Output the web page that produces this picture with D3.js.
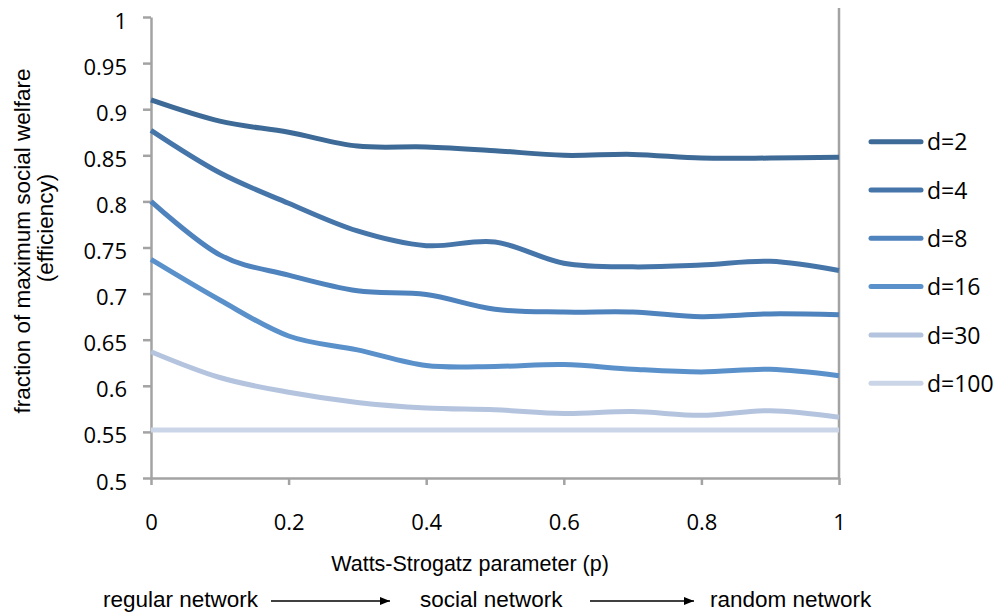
<!DOCTYPE html>
<html><head><meta charset="utf-8">
<script src="https://cdn.jsdelivr.net/npm/d3@7"></script>
<style>body{margin:0;background:#fff} svg{display:block}</style>
</head><body>
<svg id="chart" width="999" height="613"></svg>
<script>
// ---- data ----
const pValues = [0, 0.1, 0.2, 0.3, 0.4, 0.5, 0.6, 0.7, 0.8, 0.9, 1];
const seriesNames = ["d=2", "d=4", "d=8", "d=16", "d=30", "d=100"];
const d2   = [0.910, 0.887, 0.875, 0.860, 0.859, 0.855, 0.850, 0.851, 0.847, 0.847, 0.848];
const d4   = [0.877, 0.831, 0.798, 0.768, 0.752, 0.756, 0.733, 0.729, 0.731, 0.735, 0.725];
const d8   = [0.800, 0.742, 0.720, 0.703, 0.699, 0.683, 0.680, 0.680, 0.675, 0.678, 0.677];
const d16  = [0.737, 0.693, 0.654, 0.639, 0.622, 0.621, 0.623, 0.618, 0.615, 0.618, 0.611];
const d30  = [0.637, 0.609, 0.593, 0.582, 0.576, 0.574, 0.570, 0.572, 0.568, 0.573, 0.566];
const d100 = [0.552, 0.552, 0.552, 0.552, 0.552, 0.552, 0.552, 0.552, 0.552, 0.552, 0.552];
const seriesValues = [d2, d4, d8, d16, d30, d100];
const seriesColors = ["#3e6a97", "#4675a9", "#4f83bd", "#5a91cb", "#b4c4de", "#cbd5e8"];
const yTicks = [0.5, 0.55, 0.6, 0.65, 0.7, 0.75, 0.8, 0.85, 0.9, 0.95, 1];
const yTickLabels = ["0.5", "0.55", "0.6", "0.65", "0.7", "0.75", "0.8", "0.85", "0.9", "0.95", "1"];
const xTicks = [0, 0.2, 0.4, 0.6, 0.8, 1];
const xTickLabels = ["0", "0.2", "0.4", "0.6", "0.8", "1"];
const xTitle = "Watts-Strogatz parameter (p)";
const yTitle = ["fraction of maximum social welfare", "(efficiency)"];
const bottomLabels = ["regular network", "social network", "random network"];

// ---- layout ----
const svg = d3.select("#chart");
const x = d3.scaleLinear().domain([0, 1]).range([151, 839]);
const y = d3.scaleLinear().domain([0.5, 1]).range([478, 17]);
const axisColor = "#a3a3a3";
const tickFont = "'Open Sans', sans-serif";
const titleFont = "'Liberation Sans', Arial, sans-serif";

svg.append("defs").append("marker")
  .attr("id", "arrow").attr("viewBox", "0 0 10 10")
  .attr("refX", 10).attr("refY", 5)
  .attr("markerWidth", 10).attr("markerHeight", 10)
  .attr("markerUnits", "userSpaceOnUse")
  .attr("orient", "auto")
  .append("path").attr("d", "M0,1 L10,5 L0,9 Z").attr("fill", "#000");

// right border line
svg.append("line")
  .attr("x1", x(1)).attr("x2", x(1))
  .attr("y1", y(1) - 9).attr("y2", y(0.5))
  .attr("stroke", axisColor).attr("stroke-width", 2.5);

// y axis
const yAxis = svg.append("g")
  .attr("transform", `translate(${x(0)},0)`)
  .call(d3.axisLeft(y).tickValues(yTicks)
    .tickFormat((d, i) => yTickLabels[i]).tickSize(8).tickSizeOuter(0).tickPadding(16));
// x axis
const xAxis = svg.append("g")
  .attr("transform", `translate(0,${y(0.5)})`)
  .call(d3.axisBottom(x).tickValues(xTicks)
    .tickFormat((d, i) => xTickLabels[i]).tickSize(7).tickSizeOuter(0).tickPadding(29));

[yAxis, xAxis].forEach(g => {
  g.select(".domain").attr("stroke", axisColor).attr("stroke-width", 2.5);
  g.selectAll(".tick line").attr("stroke", axisColor).attr("stroke-width", 2.5);
  g.selectAll(".tick text").attr("fill", "#000")
    .style("font-family", tickFont).style("font-size", "22px");
});
yAxis.selectAll(".tick text").attr("dy", "0.5em");

// lines
const line = d3.line()
  .x((d, i) => x(pValues[i]))
  .y(d => y(d))
  .curve(d3.curveCardinal.tension(0));

svg.append("g").selectAll("path")
  .data(seriesValues)
  .join("path")
  .attr("d", d => line(d))
  .attr("fill", "none")
  .attr("stroke", (d, i) => seriesColors[i])
  .attr("stroke-width", 5)
  .attr("stroke-linecap", "butt");

// legend
const legend = svg.append("g");
seriesNames.forEach((name, i) => {
  const ly = 141.7 + i * 48.3;
  legend.append("line")
    .attr("x1", 871).attr("x2", 921).attr("y1", ly).attr("y2", ly)
    .attr("stroke", seriesColors[i]).attr("stroke-width", 5)
    .attr("stroke-linecap", "round");
  legend.append("text")
    .attr("x", 927).attr("y", ly).attr("dy", "0.38em")
    .style("font-family", tickFont).style("font-size", "23px")
    .attr("fill", "#000").text(name);
});

// titles
svg.append("text")
  .attr("x", 470).attr("y", 571)
  .attr("text-anchor", "middle")
  .style("font-family", titleFont).style("font-size", "21.5px")
  .text(xTitle);

svg.append("text")
  .attr("transform", "translate(30,241) rotate(-90)")
  .attr("text-anchor", "middle")
  .style("font-family", titleFont).style("font-size", "22.5px")
  .text(yTitle[0]);
svg.append("text")
  .attr("transform", "translate(53,228) rotate(-90)")
  .attr("text-anchor", "middle")
  .style("font-family", titleFont).style("font-size", "22.5px")
  .text(yTitle[1]);

// bottom annotation row
const bx = [103, 420, 710];
bottomLabels.forEach((t, i) => {
  svg.append("text")
    .attr("x", bx[i]).attr("y", 607)
    .style("font-family", titleFont).style("font-size", "22.5px")
    .text(t);
});
const arrows = [[271, 390], [590, 694]];
arrows.forEach(a => {
  svg.append("line")
    .attr("x1", a[0]).attr("x2", a[1]).attr("y1", 601).attr("y2", 601)
    .attr("stroke", "#000").attr("stroke-width", 1.3)
    .attr("marker-end", "url(#arrow)");
});
</script>
</body></html>
